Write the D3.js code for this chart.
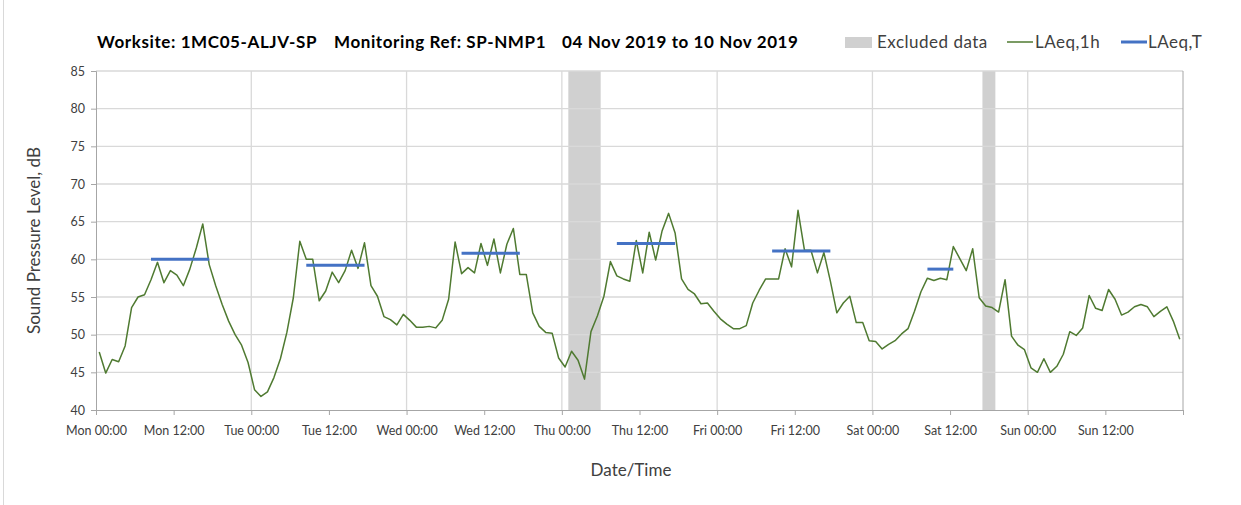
<!DOCTYPE html>
<html>
<head>
    <title>Sound Pressure Level</title>
    <style>
        body { margin: 0; background: #fff; }
        text { font-family: Lato, "Open Sans", sans-serif; }
    </style>
    <script src="https://d3js.org/d3.v7.min.js"></script>
</head>
<body>
<svg id="chart"></svg>
<script>
    // hourly LAeq,1h values, Mon 00:00 .. Sun 23:00
    const laeq1h = [
        47.7, 44.9, 46.7, 46.4, 48.5, 53.6, 55.0, 55.3, 57.3, 59.6, 56.9, 58.5, 57.9, 56.5, 58.7, 61.5, 64.7, 59.3, 56.5, 54.0, 51.8, 50.0, 48.6, 46.3,
        42.7, 41.8, 42.4, 44.3, 46.8, 50.3, 54.9, 62.4, 60.0, 60.0, 54.5, 55.8, 58.3, 56.9, 58.5, 61.2, 58.8, 62.2, 56.5, 55.1, 52.4, 52.0, 51.3, 52.7,
        51.9, 51.0, 51.0, 51.1, 50.9, 51.9, 54.7, 62.3, 58.1, 58.9, 58.2, 62.1, 59.2, 62.7, 58.2, 62.0, 64.1, 58.0, 58.0, 52.9, 51.1, 50.3, 50.2, 46.9,
        45.7, 47.8, 46.6, 44.1, 50.4, 52.5, 55.1, 59.7, 57.8, 57.4, 57.1, 62.5, 58.2, 63.6, 59.9, 63.8, 66.1, 63.5, 57.4, 56.0, 55.4, 54.1, 54.2, 53.1,
        52.1, 51.4, 50.8, 50.8, 51.2, 54.2, 55.9, 57.4, 57.4, 57.4, 61.4, 59.0, 66.5, 61.2, 61.2, 58.2, 60.9, 57.1, 52.9, 54.2, 55.1, 51.6, 51.6, 49.2,
        49.1, 48.1, 48.7, 49.2, 50.1, 50.8, 53.1, 55.7, 57.5, 57.2, 57.5, 57.3, 61.7, 60.1, 58.5, 61.4, 54.9, 53.8, 53.6, 53.0, 57.3, 49.8, 48.6, 48.0,
        45.6, 45.0, 46.8, 45.0, 45.8, 47.4, 50.4, 49.9, 50.9, 55.2, 53.5, 53.2, 56.0, 54.7, 52.6, 53.0, 53.7, 54.0, 53.7, 52.4, 53.1, 53.7, 51.8, 49.4
    ];

    // LAeq,T periods (first and last hour index) and levels
    const periodFirstHour = [8, 32, 56, 80, 104, 128];
    const periodLastHour = [17, 41, 65, 89, 113, 132];
    const periodLevel = [60.0, 59.2, 60.8, 62.1, 61.1, 58.7];

    // excluded data (hours from Mon 00:00)
    const excludedFrom = [73, 137];
    const excludedTo = [78, 139];

    const tickLabels = ['Mon 00:00', 'Mon 12:00', 'Tue 00:00', 'Tue 12:00', 'Wed 00:00', 'Wed 12:00',
        'Thu 00:00', 'Thu 12:00', 'Fri 00:00', 'Fri 12:00', 'Sat 00:00', 'Sat 12:00', 'Sun 00:00', 'Sun 12:00'];
    const yTicks = [40, 45, 50, 55, 60, 65, 70, 75, 80, 85];

    const width = 1241, height = 505;
    const margin = {top: 71, right: 58, bottom: 95, left: 96};

    const svg = d3.select('#chart').attr('width', width).attr('height', height);

    const x = d3.scaleLinear().domain([0, 168]).range([margin.left, width - margin.right]);
    const y = d3.scaleLinear().domain([40, 85]).range([height - margin.bottom, margin.top]);

    // outer chart border (left edge only visible)
    svg.append('line')
        .attr('x1', 3.5).attr('x2', 3.5).attr('y1', 0).attr('y2', height)
        .attr('stroke', '#d9d9d9');

    // excluded bands
    svg.selectAll('.excl')
        .data(excludedFrom.map((d, i) => [d, excludedTo[i]]))
        .enter().append('rect')
        .attr('x', d => x(d[0]))
        .attr('width', d => x(d[1]) - x(d[0]))
        .attr('y', y(85))
        .attr('height', y(40) - y(85))
        .attr('fill', '#d0d0d0');

    // horizontal grid
    svg.append('g')
        .selectAll('line')
        .data(yTicks.slice(1))
        .enter().append('line')
        .attr('x1', x(0)).attr('x2', x(168))
        .attr('y1', d => y(d)).attr('y2', d => y(d))
        .attr('stroke', '#d9d9d9').attr('stroke-width', 1.3);

    // vertical grid at midnight
    svg.append('g')
        .selectAll('line')
        .data(d3.range(24, 168, 24))
        .enter().append('line')
        .attr('x1', d => x(d)).attr('x2', d => x(d))
        .attr('y1', y(85)).attr('y2', y(40))
        .attr('stroke', '#d9d9d9').attr('stroke-width', 1.3);

    // right border
    svg.append('line')
        .attr('x1', x(168)).attr('x2', x(168)).attr('y1', y(85)).attr('y2', y(40))
        .attr('stroke', '#a6a6a6');

    // axes
    const xAxis = d3.axisBottom(x)
        .tickValues(d3.range(0, 169, 12))
        .tickSize(5)
        .tickFormat((d, i) => tickLabels[i] || '');
    const gx = svg.append('g')
        .attr('transform', `translate(0,${y(40)})`)
        .call(xAxis);
    gx.select('.domain').attr('stroke', '#a6a6a6');
    gx.selectAll('.tick line').attr('stroke', '#a6a6a6');
    gx.selectAll('.tick text')
        .attr('y', 16)
        .attr('dy', '0.71em')
        .attr('fill', '#404040')
        .style('font-size', '12.5px');

    const yAxis = d3.axisLeft(y).tickValues(yTicks).tickSize(5).tickPadding(6);
    const gy = svg.append('g')
        .attr('transform', `translate(${x(0)},0)`)
        .call(yAxis);
    gy.select('.domain').attr('stroke', '#a6a6a6');
    gy.selectAll('.tick line').attr('stroke', '#a6a6a6');
    gy.selectAll('.tick text')
        .attr('fill', '#404040')
        .style('font-size', '12.5px');

    // LAeq,1h line
    const line = d3.line()
        .x((d, i) => x(i + 0.5))
        .y(d => y(d));
    svg.append('path')
        .datum(laeq1h)
        .attr('d', line)
        .attr('fill', 'none')
        .attr('stroke', '#4f7a31')
        .attr('stroke-width', 1.5)
        .attr('stroke-linejoin', 'round');

    // LAeq,T periods
    svg.selectAll('.period')
        .data(periodLevel)
        .enter().append('line')
        .attr('x1', (d, i) => x(periodFirstHour[i] + 0.5))
        .attr('x2', (d, i) => x(periodLastHour[i] + 0.5))
        .attr('y1', d => y(d)).attr('y2', d => y(d))
        .attr('stroke', '#4472c4')
        .attr('stroke-width', 3);

    // title
    const titleParts = [
        {text: 'Worksite: 1MC05-ALJV-SP', x: 97},
        {text: 'Monitoring Ref: SP-NMP1', x: 334},
        {text: '04 Nov 2019 to 10 Nov 2019', x: 562}
    ];
    svg.selectAll('.title')
        .data(titleParts)
        .enter().append('text')
        .attr('x', d => d.x)
        .attr('y', 48)
        .style('font-size', '17px')
        .style('letter-spacing', '0.6px')
        .style('font-weight', 'bold')
        .attr('fill', '#000')
        .text(d => d.text);

    // legend
    const legend = svg.append('g')
        .style('font-size', '17px')
        .style('letter-spacing', '0.5px')
        .attr('fill', '#404040');
    legend.append('rect')
        .attr('x', 845).attr('y', 37).attr('width', 27).attr('height', 11)
        .attr('fill', '#d0d0d0');
    legend.append('text').attr('x', 877).attr('y', 48).text('Excluded data');
    legend.append('line')
        .attr('x1', 1007).attr('x2', 1033).attr('y1', 42).attr('y2', 42)
        .attr('stroke', '#4f7a31').attr('stroke-width', 1.5);
    legend.append('text').attr('x', 1035).attr('y', 48).text('LAeq,1h');
    legend.append('line')
        .attr('x1', 1121).attr('x2', 1147).attr('y1', 42).attr('y2', 42)
        .attr('stroke', '#4472c4').attr('stroke-width', 3);
    legend.append('text').attr('x', 1148).attr('y', 48).text('LAeq,T');

    // axis titles
    svg.append('text')
        .attr('x', 631)
        .attr('y', 476)
        .attr('text-anchor', 'middle')
        .style('font-size', '17px')
        .attr('fill', '#404040')
        .text('Date/Time');

    svg.append('text')
        .attr('transform', `translate(40,${(y(40) + y(85)) / 2}) rotate(-90)`)
        .attr('text-anchor', 'middle')
        .style('font-size', '17px')
        .attr('fill', '#404040')
        .text('Sound Pressure Level, dB');
</script>
</body>
</html>
